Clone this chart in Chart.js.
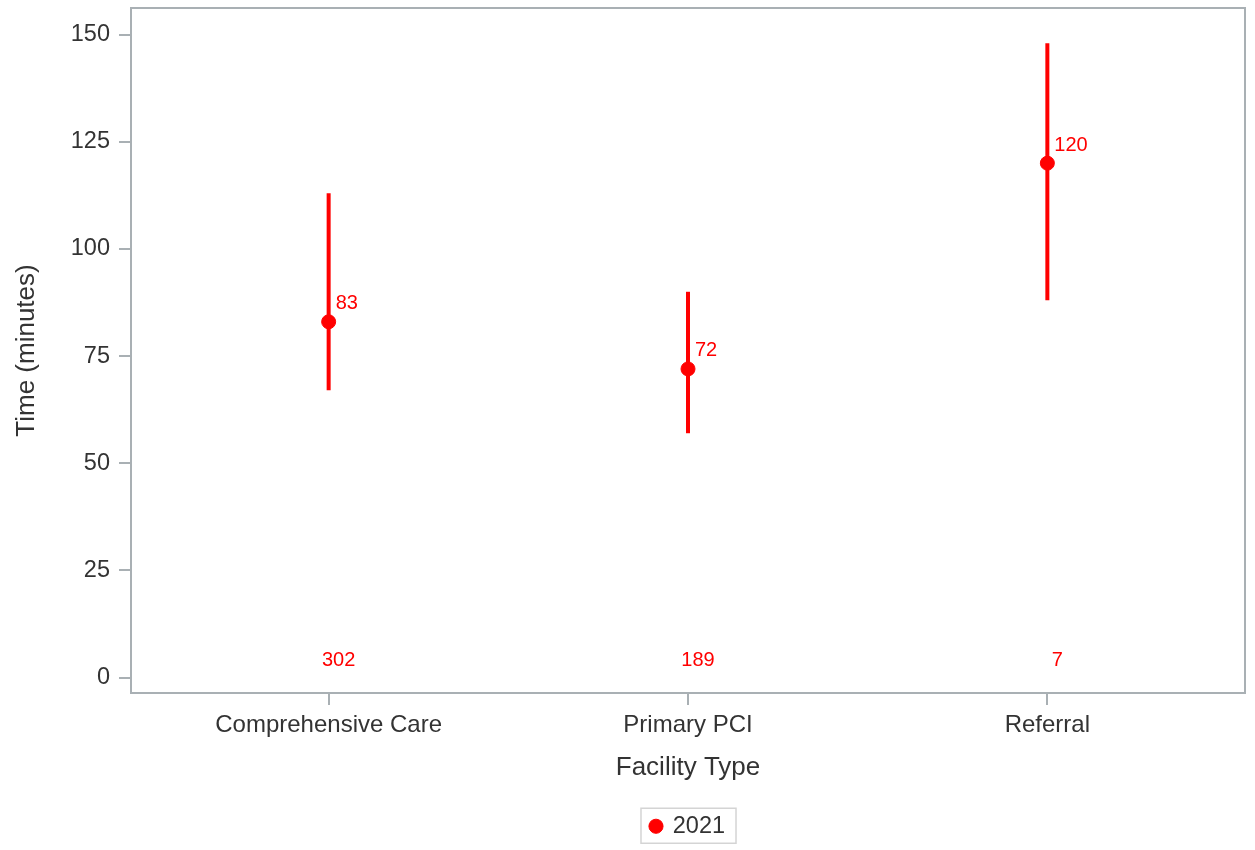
<!DOCTYPE html>
<html>
<head>
<meta charset="utf-8">
<script src="https://cdn.jsdelivr.net/npm/chart.js@4/dist/chart.umd.min.js"></script>
<style>
html, body { margin: 0; padding: 0; background: #fff; }
#wrap { width: 1255px; height: 850px; }
</style>
</head>
<body>
<div id="wrap"><canvas id="chart"></canvas></div>
<script>
// chart data
const categories = ['Comprehensive Care', 'Primary PCI', 'Referral'];
const medianTimes = [83, 72, 120];
const lowerQuartile = [67, 57, 88];
const upperQuartile = [113, 90, 148];
const patientCounts = [302, 189, 7];
const yTicks = [0, 25, 50, 75, 100, 125, 150];
const seriesLabel = '2021';

const RED = '#ff0000';
const AXIS = '#a9b0b4';
const TEXT = '#333333';
const FONT = '"Liberation Sans", Arial, sans-serif';

// one line dataset per category for the whisker
const whiskers = categories.map((c, i) => ({
    type: 'line',
    label: 'range ' + c,
    data: [{ x: i, y: lowerQuartile[i] }, { x: i, y: upperQuartile[i] }],
    borderColor: RED,
    borderWidth: 4,
    pointRadius: 0,
    order: 2
}));

// labels, frame and legend border
const annotatePlugin = {
    id: 'annotate',
    afterDatasetsDraw(chart) {
        const { ctx, chartArea, scales: { x, y } } = chart;
        ctx.save();
        ctx.fillStyle = RED;
        ctx.font = '20px ' + FONT;
        ctx.textBaseline = 'middle';
        categories.forEach((c, i) => {
            const px = x.getPixelForValue(i);
            const py = y.getPixelForValue(medianTimes[i]);
            ctx.textAlign = 'left';
            ctx.fillText(String(medianTimes[i]), px + 7, py - 18);
            ctx.textAlign = 'center';
            ctx.fillText(String(patientCounts[i]), px + 10, y.getPixelForValue(4));
        });
        ctx.strokeStyle = AXIS;
        ctx.lineWidth = 2;
        ctx.strokeRect(chartArea.left, chartArea.top, chartArea.right - chartArea.left, chartArea.bottom - chartArea.top);
        ctx.restore();
    },
    afterDraw(chart) {
        const hb = chart.legend.legendHitBoxes[0];
        if (!hb) return;
        const ctx = chart.ctx;
        const cy = hb.top + hb.height / 2;
        ctx.save();
        ctx.strokeStyle = '#d4d4d4';
        ctx.lineWidth = 1.5;
        ctx.strokeRect(hb.left - 10, cy - 18, hb.width + 21, 35);
        ctx.restore();
    }
};

new Chart(document.getElementById('chart'), {
    type: 'scatter',
    data: {
        datasets: [{
            label: seriesLabel,
            data: medianTimes.map((v, i) => ({ x: i, y: v })),
            backgroundColor: RED,
            borderColor: RED,
            pointRadius: 7,
            pointStyle: 'circle',
            order: 1
        }].concat(whiskers)
    },
    options: {
        responsive: true,
        maintainAspectRatio: false,
        animation: false,
        layout: { padding: { left: 0, right: 10, top: 7, bottom: 2 } },
        plugins: {
            tooltip: { enabled: false },
            legend: {
                position: 'bottom',
                fullSize: false,
                labels: {
                    usePointStyle: true,
                    boxWidth: 10,
                    boxHeight: 10,
                    color: TEXT,
                    font: { family: FONT, size: 23.5 },
                    filter: item => item.datasetIndex === 0
                }
            }
        },
        scales: {
            x: {
                type: 'linear',
                min: -0.55,
                max: 2.55,
                border: { display: false },
                grid: { drawOnChartArea: false, color: AXIS, lineWidth: 2, tickLength: 12 },
                afterBuildTicks: s => { s.ticks = categories.map((c, i) => ({ value: i })); },
                afterFit: s => { s.height = 111.5; s.paddingLeft = 0; s.paddingRight = 0; },
                ticks: {
                    color: TEXT,
                    padding: 6,
                    font: { family: FONT, size: 24 },
                    callback: v => categories[v]
                },
                title: {
                    display: true,
                    text: 'Facility Type',
                    color: TEXT,
                    font: { family: FONT, size: 26 },
                    padding: { top: 0, bottom: 21 }
                }
            },
            y: {
                min: -3.6,
                max: 156.2,
                border: { display: false },
                grid: { drawOnChartArea: false, color: AXIS, lineWidth: 2, tickLength: 12 },
                afterBuildTicks: s => { s.ticks = yTicks.map(v => ({ value: v })); },
                afterFit: s => { s.width = 131; s.paddingTop = 0; s.paddingBottom = 0; },
                ticks: {
                    color: TEXT,
                    padding: 9,
                    font: { family: FONT, size: 23.5 }
                },
                title: {
                    display: true,
                    text: 'Time (minutes)',
                    color: TEXT,
                    font: { family: FONT, size: 26 },
                    padding: { top: 11, bottom: 0 }
                }
            }
        }
    },
    plugins: [annotatePlugin]
});
</script>
</body>
</html>
